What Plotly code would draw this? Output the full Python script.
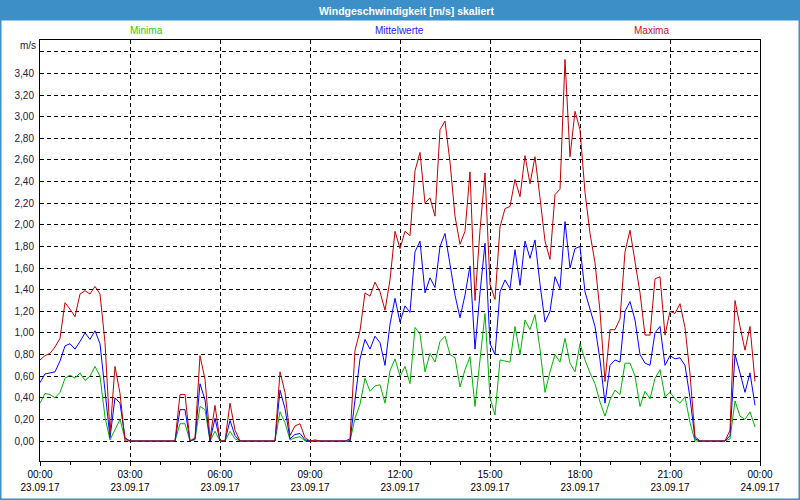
import pandas as pd
import plotly.graph_objects as go

# ---- data (10-minute values, 23.09.17 00:00 .. 23:50) ----
start_time = "2017-09-23 00:00"
end_time = "2017-09-24 00:00"

maxima = [
    0.75, 0.79, 0.81, 0.87, 0.95, 1.28, 1.22, 1.15, 1.36, 1.39, 1.36, 1.43, 1.36, 0.91, 0.07, 0.69, 0.44, 0.00,
    0, 0, 0, 0, 0, 0, 0, 0, 0, 0,
    0.43, 0.43, 0, 0.03, 0.79, 0.57, 0.02, 0.33, 0, 0, 0.35, 0.10,
    0, 0, 0, 0, 0, 0, 0, 0,
    0.64, 0.45, 0.05, 0.14, 0.16, 0.03, 0, 0.01,
    0, 0, 0, 0, 0, 0, 0.02,
    0.84, 1.02, 1.37, 1.34, 1.47, 1.38, 1.21, 1.49, 1.94, 1.78, 1.94, 1.90, 2.50, 2.67, 2.20, 2.25, 2.08,
    2.88, 2.96, 2.58, 2.08, 1.82, 1.94, 2.49, 1.30, 1.95, 2.48, 1.45, 1.31, 1.98, 2.15, 2.17, 2.42, 2.26,
    2.64, 2.38, 2.63, 2.25, 1.85, 1.68, 2.28, 2.33, 3.53, 2.63, 3.05, 2.88, 2.30, 1.92, 1.65, 1.20, 0.55,
    1.03, 1.03, 1.13, 1.75, 1.95, 1.68, 1.37, 0.98, 0.98, 1.50, 1.52, 0.98, 1.20, 1.18, 1.27, 1.05, 0.62,
    0.04, 0, 0, 0, 0, 0, 0, 0.10, 1.30, 1.06, 0.84, 1.06, 0.55,
]

mittelwerte = [
    0.54, 0.62, 0.63, 0.64, 0.74, 0.88, 0.90, 0.85, 0.92, 1.00, 0.94, 1.02, 0.90, 0.45, 0.03, 0.40, 0.35, 0.03,
    0, 0, 0, 0, 0, 0, 0, 0, 0, 0,
    0.29, 0.29, 0, 0.02, 0.53, 0.38, 0, 0.21, 0, 0, 0.19, 0.05,
    0, 0, 0, 0, 0, 0, 0, 0,
    0.47, 0.30, 0.02, 0.06, 0.07, 0.01, 0, 0,
    0, 0, 0, 0, 0, 0, 0,
    0.38, 0.76, 0.94, 0.85, 0.97, 0.91, 0.70, 1.08, 1.32, 1.10, 1.25, 1.19, 1.75, 1.85, 1.37, 1.51, 1.42,
    1.80, 1.92, 1.65, 1.35, 1.14, 1.35, 1.62, 0.85, 1.37, 1.83, 0.90, 0.80, 1.38, 1.49, 1.41, 1.77, 1.44,
    1.85, 1.69, 1.86, 1.45, 1.10, 1.20, 1.52, 1.41, 2.03, 1.60, 1.78, 1.80, 1.38, 1.22, 1.06, 0.75, 0.35,
    0.70, 0.75, 0.73, 1.20, 1.29, 1.12, 0.80, 0.72, 0.70, 1.00, 1.06, 0.70, 0.79, 0.76, 0.77, 0.70, 0.40,
    0.02, 0, 0, 0, 0, 0, 0, 0.05, 0.80, 0.63, 0.45, 0.63, 0.33,
]

minima = [
    0.35, 0.44, 0.43, 0.40, 0.45, 0.58, 0.61, 0.58, 0.63, 0.56, 0.60, 0.69, 0.60, 0.22, 0.01, 0.10, 0.20, 0.02,
    0, 0, 0, 0, 0, 0, 0, 0, 0, 0,
    0.16, 0.16, 0, 0.01, 0.32, 0.29, 0, 0.09, 0, 0, 0.09, 0.02,
    0, 0, 0, 0, 0, 0, 0, 0,
    0.27, 0.17, 0.01, 0.03, 0.04, 0, 0, 0,
    0, 0, 0, 0, 0, 0, 0,
    0.21, 0.34, 0.58, 0.46, 0.51, 0.52, 0.35, 0.65, 0.76, 0.60, 0.69, 0.53, 1.05, 0.99, 0.64, 0.81, 0.73,
    0.92, 0.97, 0.80, 0.77, 0.50, 0.66, 0.78, 0.32, 0.72, 1.18, 0.40, 0.24, 0.75, 0.74, 0.73, 1.06, 0.80,
    1.12, 1.03, 1.17, 0.85, 0.45, 0.64, 0.80, 0.73, 0.95, 0.72, 0.64, 0.90, 0.75, 0.63, 0.53, 0.36, 0.23,
    0.38, 0.47, 0.43, 0.72, 0.72, 0.60, 0.32, 0.46, 0.39, 0.58, 0.66, 0.41, 0.45, 0.39, 0.35, 0.41, 0.17,
    0, 0, 0, 0, 0, 0, 0, 0.02, 0.37, 0.23, 0.20, 0.27, 0.13,
]

y_tick_vals = [0.0, 0.2, 0.4, 0.6, 0.8, 1.0, 1.2, 1.4, 1.6, 1.8, 2.0, 2.2, 2.4, 2.6, 2.8, 3.0, 3.2, 3.4, 3.6]
y_tick_text = ["0,00", "0,20", "0,40", "0,60", "0,80", "1,00", "1,20", "1,40", "1,60", "1,80",
               "2,00", "2,20", "2,40", "2,60", "2,80", "3,00", "3,20", "3,40", ""]

series_names = ["Minima", "Mittelwerte", "Maxima"]
title_text = "Windgeschwindigkeit [m/s] skaliert"
unit_text = "m/s"

# ---- styling ----
W, H = 800, 500
ML, MR, MT, MB = 40, 40, 40, 39
PW, PH = W - ML - MR, H - MT - MB
FRAME = "#3d8fc8"
C_MIN, C_MEAN, C_MAX = "#00b400", "#0000ff", "#c00000"
C_MIN_T, C_MEAN_T, C_MAX_T = "#22cc22", "#2020ff", "#c01030"
FONT = "Liberation Sans"


def px_x(px):
    return (px - ML) / PW


def px_y(py):
    return (H - MB - py) / PH


times = pd.date_range(start_time, periods=len(maxima), freq="10min")

fig = go.Figure()
for vals, col in [(minima, C_MIN), (mittelwerte, C_MEAN), (maxima, C_MAX)]:
    fig.add_trace(go.Scatter(x=times, y=vals, mode="lines",
                             line=dict(color=col, width=1), showlegend=False))

shapes = [
    dict(type="rect", xref="paper", yref="paper", x0=px_x(0), x1=px_x(W), y0=px_y(20.5), y1=px_y(0),
         fillcolor=FRAME, line=dict(width=0), layer="below"),
    dict(type="rect", xref="paper", yref="paper", x0=px_x(0.75), x1=px_x(W - 0.75),
         y0=px_y(H - 0.75), y1=px_y(0.75), line=dict(color=FRAME, width=1.5)),
]


def label(text, px, py, color, size=10.5, xanchor="center"):
    return dict(text=text, x=px_x(px), y=px_y(py), xref="paper", yref="paper",
                xanchor=xanchor, yanchor="middle", showarrow=False,
                font=dict(family=FONT, size=size, color=color))


annotations = [
    label("<b>" + title_text + "</b>", 406, 10.5, "white"),
    label(series_names[0], 146, 31, C_MIN_T, size=10),
    label(series_names[1], 399, 31, C_MEAN_T, size=10),
    label(series_names[2], 651, 31, C_MAX_T, size=10),
    label(unit_text, 38, 45, "#202040", size=10, xanchor="right"),
]

fig.update_layout(
    width=W, height=H,
    margin=dict(l=ML, r=MR, t=MT, b=MB, pad=0, autoexpand=False),
    paper_bgcolor="white", plot_bgcolor="white",
    shapes=shapes, annotations=annotations,
    font=dict(family=FONT, size=10, color="black"),
)

fig.update_xaxes(
    type="date", range=[start_time, end_time], automargin=False,
    tick0=start_time, dtick=3 * 3600 * 1000, tickformat="%H:%M<br>%d.%m.%y",
    ticks="outside", ticklen=4, tickcolor="black",
    minor=dict(dtick=3600 * 1000, ticks="outside", ticklen=3, tickcolor="black", showgrid=False),
    showgrid=True, gridcolor="black", gridwidth=1, griddash="4px,3px",
    showline=True, linecolor="black", linewidth=1, mirror=True,
    tickfont=dict(family=FONT, size=10, color="black"), zeroline=False,
)

fig.update_yaxes(
    range=[-0.185, 3.71], tickvals=y_tick_vals, ticktext=y_tick_text, ticks="", automargin=False,
    showgrid=True, gridcolor="black", gridwidth=1, griddash="4px,3px",
    showline=True, linecolor="black", linewidth=1, mirror=True,
    tickfont=dict(family=FONT, size=10, color="#202040"), zeroline=False,
    ticklabelstandoff=3,
)

fig.write_html(
    "out.html",
    config={"displayModeBar": False},
    post_script="document.body.style.margin='0';document.body.style.overflow='hidden';",
)
